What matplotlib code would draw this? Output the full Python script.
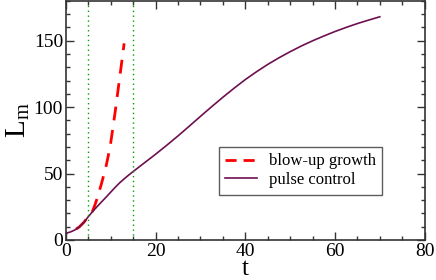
import matplotlib
matplotlib.use("Agg")
import matplotlib.pyplot as plt
from matplotlib.ticker import MultipleLocator

plt.rcParams["font.family"] = ["Liberation Serif", "DejaVu Serif"]
plt.rcParams["mathtext.fontset"] = "custom"
plt.rcParams["mathtext.rm"] = "Liberation Serif"
plt.rcParams["mathtext.it"] = "Liberation Serif:italic"

# pulse control curve
t_pulse = [0, 1, 2, 3, 4, 5, 6, 7, 8, 9, 10, 11, 12, 13, 14, 15, 17.5, 20, 22.5,
           25, 27.5, 30, 32.5, 35, 37.5, 40, 42.5, 45, 47.5, 50, 52.5, 55, 57.5,
           60, 62.5, 65, 67.5, 70]
L_pulse = [5, 6, 7.5, 9.8, 13.2, 17.5, 21.5, 25.2, 28.8, 32.3, 36, 39.6, 43, 46,
           48.8, 51.5, 58, 64.5, 71.3, 78.3, 85.6, 93, 100.3, 107.4, 114.2, 120.7,
           126.6, 132.1, 137.1, 141.7, 146, 149.9, 153.5, 156.9, 160, 162.9,
           165.5, 168]

# blow-up growth curve
t_blow = [0, 1, 2, 3, 4, 5, 5.5, 6, 6.5, 7, 8, 9, 9.5, 10, 10.5, 11, 12, 13]
L_blow = [5, 6, 7.5, 9.8, 13.2, 17.5, 19.6, 22, 26.5, 31.5, 43, 56, 64, 73,
          84.5, 96.5, 122, 148]

# times where the pulses are applied
t_pulses = [5, 15]

fig = plt.figure(figsize=(4.36, 2.8), dpi=100)
ax = fig.add_axes([0.151, 0.143, 0.823, 0.854])

ax.plot(t_blow, L_blow, color="#ff0000", linewidth=2.0,
        linestyle=(4.5, (5, 3.5)), label="blow-up growth")
ax.plot(t_pulse, L_pulse, color="#6e1050", linewidth=1.2, label="pulse control")
for tp in t_pulses:
    ax.axvline(tp, color="#00a000", linestyle=(0, (1, 2.5)), linewidth=1.0)

ax.set_xlim(0, 80)
ax.set_ylim(0, 180)
ax.xaxis.set_major_locator(MultipleLocator(20))
ax.xaxis.set_minor_locator(MultipleLocator(5))
ax.yaxis.set_major_locator(MultipleLocator(50))
ax.yaxis.set_minor_locator(MultipleLocator(10))
ax.tick_params(which="both", direction="in", top=True, right=True,
               color="#333333", width=1.0, labelsize=14, pad=2)
ax.tick_params(which="major", length=6)
ax.tick_params(which="minor", length=3)
for s in ax.spines.values():
    s.set_color("#333333")
    s.set_linewidth(1.2)

ax.set_xlabel("t", fontsize=18, labelpad=-1.5)
ax.set_ylabel(r"$\mathrm{L}_\mathrm{m}$", fontsize=21, labelpad=1)

leg = ax.legend(loc="lower right", bbox_to_anchor=(0.905, 0.155), fontsize=12,
                frameon=True, fancybox=False, edgecolor="#333333",
                handlelength=1.9, handletextpad=0.7, borderpad=0.4,
                labelspacing=0.15)
leg.get_frame().set_linewidth(1.0)
# plain dash pattern for the legend sample
leg.get_lines()[0].set_linestyle((0, (4, 2.5)))

fig.savefig("out.png", dpi=100)
